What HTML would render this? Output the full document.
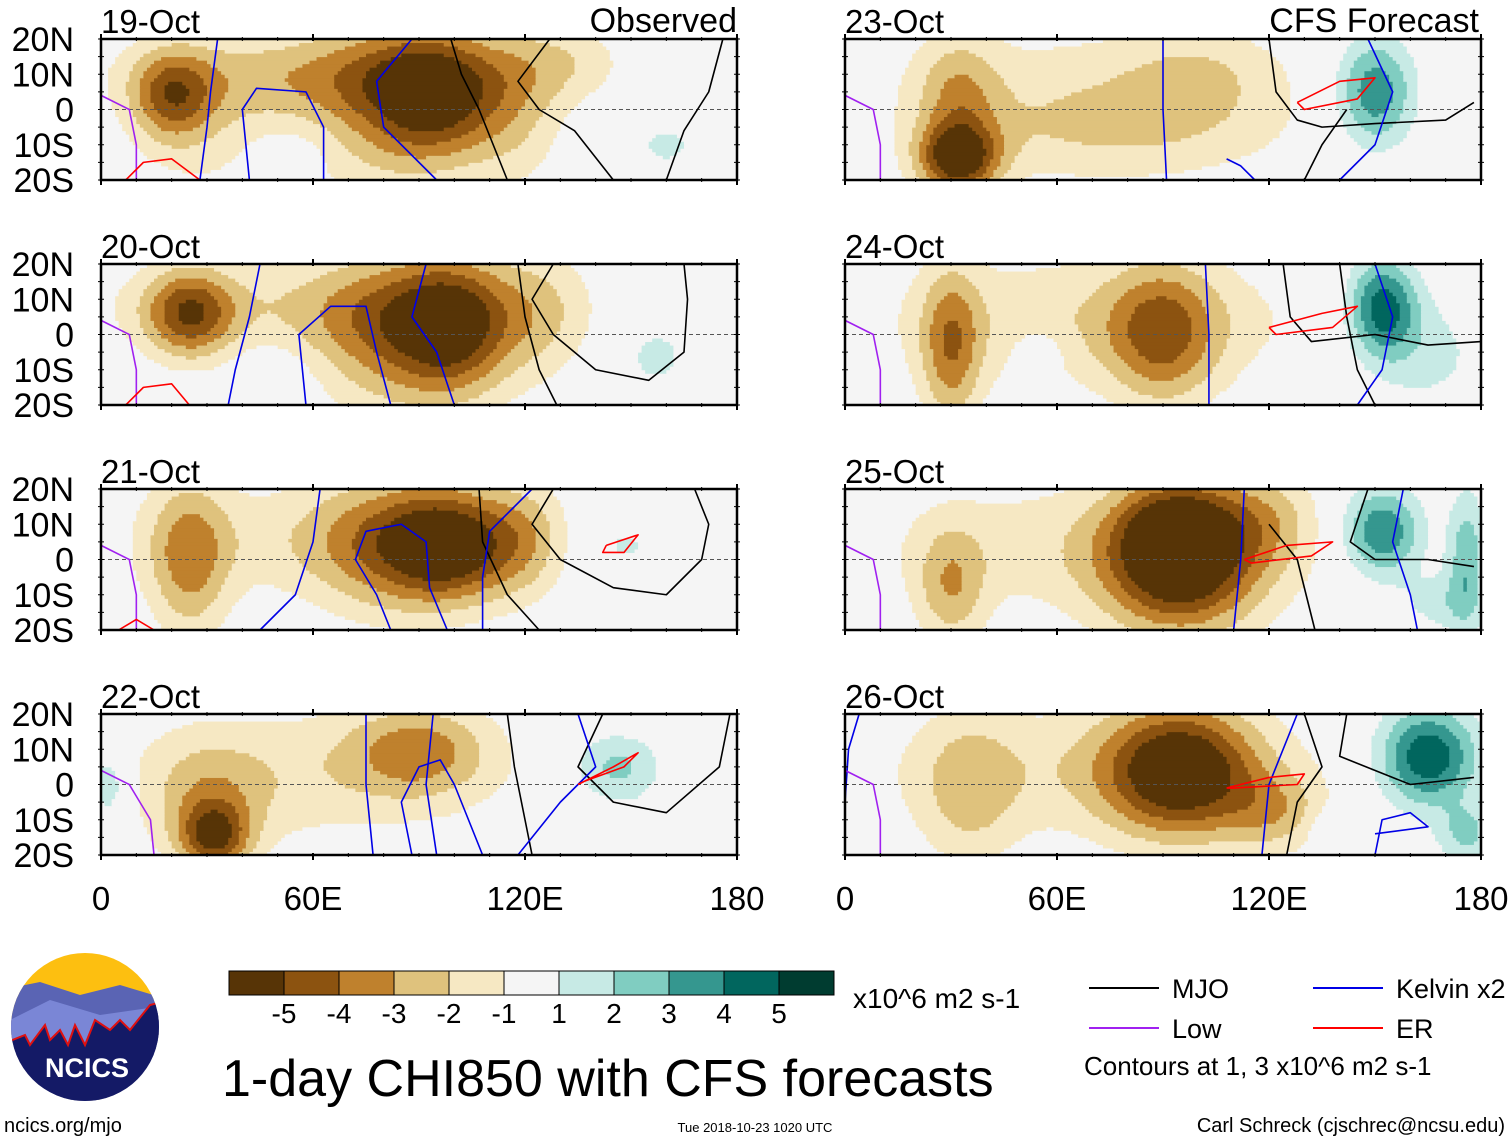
<!DOCTYPE html>
<html><head><meta charset="utf-8"><style>
body{margin:0;background:#fff;width:1510px;height:1142px;overflow:hidden;font-family:"Liberation Sans",sans-serif}
svg{position:absolute;left:0;top:0}
</style></head><body>
<svg id="c" width="1510" height="1142" xmlns="http://www.w3.org/2000/svg"></svg>
<script>
// Panel data
const panelDates=["19-Oct","20-Oct","21-Oct","22-Oct","23-Oct","24-Oct","25-Oct","26-Oct"];
// blobs: [lon, lat, amplitude, sigmaLon, sigmaLat]
const blobs=[
[[95,4,-4.8,13,13],[75,2,-2.4,18,18],[20,4,-3.4,8,9],[30,-2,-1.4,16,16],[60,10,-1.6,40,8],[118,0,-1.6,10,16],[132,14,-1.4,12,8],[160,-10,1.2,8,6],[50,-18,1.0,6,4],[55,-10,0.8,10,6]],
[[25,6,-4.2,9,9],[100,2,-4.6,12,14],[80,0,-2.8,16,16],[60,8,-1.6,45,10],[125,6,-1.6,10,14],[157,-6,1.4,7,7],[50,-12,0.6,8,8]],
[[100,4,-4.4,12,11],[82,4,-3,16,14],[25,0,-3,8,16],[60,6,-1.4,45,12],[120,6,-1.8,8,12],[148,4,1.3,8,6],[2,6,1.2,3,5]],
[[32,-15,-4.2,7,7],[90,10,-2.8,14,9],[60,3,-1.6,40,14],[146,5,2.4,9,7],[2,0,2.2,4,7],[30,-4,-1.8,12,12],[160,-12,1.0,10,5]],
[[32,-14,-5.4,8,7],[32,4,-2.2,8,12],[75,-8,-1.6,35,10],[70,8,-1.3,45,12],[100,10,-1.2,15,10],[150,5,4.0,8,11],[172,-16,1.0,4,4],[2,0,1.0,3,4]],
[[152,8,4.6,7,10],[90,0,-3.4,11,14],[30,-4,-3.2,6,16],[70,4,-1.8,45,14],[165,-5,1.4,12,12],[55,-4,0.9,6,5],[4,-4,1.0,3,4]],
[[95,8,-5.6,13,11],[95,-8,-3.4,16,12],[70,4,-1.6,45,14],[152,8,4.2,8,9],[176,0,2.8,4,14],[30,-8,-2.4,7,12],[120,12,-1.6,10,10],[168,-12,1.4,8,6]],
[[95,4,-5.6,15,13],[165,8,5.0,10,10],[176,-14,2.2,6,6],[35,-2,-1.8,10,16],[70,4,-1.6,45,14],[2,12,1.2,3,6],[122,-8,-2,10,8],[140,-12,1.2,6,4]]
];
// contour lines: [type, [[lon,lat],...]]
const lines=[
[["mjo",[[99,20],[102,10],[107,0],[111,-10],[115,-20]]],["mjo",[[127,20],[118,8],[124,0],[134,-6],[145,-20]]],["mjo",[[176,20],[172,5],[165,-6],[160,-20]]],["kel",[[33,20],[31,5],[30,-5],[28,-20]]],["kel",[[88,20],[78,8],[80,-5],[95,-20]]],["kel",[[42,-20],[40,0],[44,6],[58,5],[63,-5],[63,-20]]],["low",[[0,4],[8,0],[10,-10],[10,-20]]],["er",[[7,-20],[12,-15],[20,-14],[28,-20]]]],
[["mjo",[[118,20],[120,5],[124,-10],[129,-20]]],["mjo",[[128,20],[122,10],[128,0],[140,-10],[155,-13],[165,-5],[166,10],[165,20]]],["kel",[[45,20],[42,5],[38,-10],[36,-20]]],["kel",[[58,-20],[56,0],[65,8],[75,8],[78,-5],[82,-20]]],["kel",[[92,20],[88,5],[95,-5],[100,-20]]],["low",[[0,4],[8,0],[10,-10],[10,-20]]],["er",[[7,-20],[12,-15],[20,-14],[25,-20]]]],
[["mjo",[[107,20],[108,5],[115,-10],[124,-20]]],["mjo",[[128,20],[122,10],[130,0],[145,-8],[160,-10],[170,0],[172,10],[168,20]]],["kel",[[62,20],[60,5],[55,-10],[45,-20]]],["kel",[[98,-20],[93,-8],[92,5],[85,10],[75,8],[72,0],[78,-10],[82,-20]]],["kel",[[122,20],[110,8],[108,-5],[108,-20]]],["low",[[0,4],[8,0],[10,-10],[10,-20]]],["er",[[5,-20],[10,-17],[15,-20]]],["er",[[143,4],[152,7],[148,2],[142,2],[143,4]]]],
[["mjo",[[115,20],[117,5],[120,-10],[122,-20]]],["mjo",[[142,20],[135,5],[145,-5],[160,-8],[175,5],[178,20]]],["kel",[[75,20],[75,0],[77,-20]]],["kel",[[94,20],[92,0],[95,-20]]],["kel",[[88,-20],[85,-5],[90,5],[96,7],[100,0],[108,-20]]],["kel",[[135,20],[140,5],[130,-5],[118,-20]]],["low",[[0,4],[8,0],[14,-10],[15,-20]]],["er",[[135,0],[145,5],[152,9],[148,5],[137,1]]]],
[["mjo",[[120,20],[122,5],[128,-3],[135,-5],[150,-4],[170,-3],[178,2]]],["mjo",[[130,-20],[135,-10],[142,0]]],["kel",[[90,20],[90,0],[91,-20]]],["kel",[[148,20],[155,5],[150,-10],[140,-20]]],["kel",[[108,-14],[112,-16],[116,-20]]],["low",[[0,4],[8,0],[10,-10],[10,-20]]],["er",[[128,2],[140,8],[150,9],[145,3],[130,0],[128,2]]]],
[["mjo",[[124,20],[126,5],[132,-2],[150,0],[165,-3],[180,-2]]],["mjo",[[140,20],[142,5],[145,-10],[150,-20]]],["kel",[[102,20],[103,0],[103,-20]]],["kel",[[150,20],[155,5],[152,-10],[145,-20]]],["low",[[0,4],[8,0],[10,-10],[10,-20]]],["er",[[120,2],[135,6],[145,8],[138,2],[122,0],[120,2]]]],
[["mjo",[[133,-20],[128,0],[124,5],[120,10]]],["mjo",[[148,20],[143,5],[150,0],[165,0],[178,-2]]],["kel",[[113,20],[112,0],[110,-20]]],["kel",[[158,20],[155,5],[160,-10],[162,-20]]],["low",[[0,4],[8,0],[10,-10],[10,-20]]],["er",[[113,0],[125,4],[138,5],[132,1],[115,-1],[113,0]]]],
[["mjo",[[130,20],[135,5],[128,-5],[125,-20]]],["mjo",[[142,20],[140,8],[160,0],[178,2]]],["kel",[[128,20],[120,0],[118,-20]]],["kel",[[150,-20],[152,-10],[160,-8],[165,-12],[150,-14]]],["kel",[[0,-5],[1,10],[4,20]]],["low",[[0,4],[8,0],[10,-10],[10,-20]]],["er",[[108,-1],[120,2],[130,3],[128,0],[110,-1],[108,-1]]]]
];
const cbarLabels=["-5","-4","-3","-2","-1","1","2","3","4","5"];
const levels=[-5,-4,-3,-2,-1,1,2,3,4,5];
const colors=["#573406","#8c5310","#bf812d","#dfc27d","#f6e8c3","#f5f5f5","#c7eae5","#80cdc1","#35978f","#01665e","#003c30"];
const yTicks=["20N","10N","0","10S","20S"];
const xTicks=["0","60E","120E","180"];

const NS="http://www.w3.org/2000/svg";
const svg=document.getElementById('c');
function el(t,a,p){const e=document.createElementNS(NS,t);for(const k in a)e.setAttribute(k,a[k]);(p||svg).appendChild(e);return e;}
function txt(s,a,p){const e=el('text',a,p);e.textContent=s;return e;}
const lineColor={mjo:"#000",kel:"#0000e6",low:"#a020f0",er:"#f00"};
const W=636,H=141;
const lefts=[101,845], tops=[39,264,489,714];
function bin(v){let i=0;while(i<levels.length&&v>=levels[i])i++;return i;}
panelDates.forEach((d,pi)=>{
  const x0=lefts[Math.floor(pi/4)], y0=tops[pi%4];
  const g=el('g',{},svg);
  
  
  const sx=lon=>x0+lon/180*W, sy=lat=>y0+(20-lat)/40*H;
  const dl=1,dt=1;
  for(let lat=-20;lat<20;lat+=dt){
    let runC=null,runStart=0;
    for(let lon=0;lon<=180;lon+=dl){
      let c=null;
      if(lon<180){let v=0;const cl=lon+dl/2,ct=lat+dt/2;
        blobs[pi].forEach(b=>{v+=b[2]*Math.exp(-((cl-b[0])**2/(2*b[3]*b[3])+(ct-b[1])**2/(2*b[4]*b[4])));});
        c=colors[bin(v)];}
      if(c!==runC){
        if(runC!==null)el('rect',{x:sx(runStart),y:sy(lat+dt),width:sx(lon)-sx(runStart)+0.5,height:H*dt/40+0.5,fill:runC},g);
        runC=c;runStart=lon;}
    }
  }
  el('line',{x1:x0,x2:x0+W,y1:sy(0),y2:sy(0),stroke:"#555","stroke-dasharray":"4,3","stroke-width":1},g);
  lines[pi].forEach(([t,pts])=>{
    const p=el('polyline',{points:pts.map(q=>sx(q[0])+','+sy(q[1])).join(' '),fill:"none",stroke:lineColor[t],"stroke-width":1.6,"stroke-linejoin":"round"},g);
    
    
  });
  el('rect',{x:x0,y:y0,width:W,height:H,fill:"none",stroke:"#000","stroke-width":2.5},g);
  for(let lon=0;lon<=180;lon+=10){const big=lon%60==0;
    el('line',{x1:sx(lon),x2:sx(lon),y1:y0-(big?5:2),y2:y0+2,stroke:"#000","stroke-width":big?2:1},g);
    el('line',{x1:sx(lon),x2:sx(lon),y1:y0+H-2,y2:y0+H+(big?5:2),stroke:"#000","stroke-width":big?2:1},g);}
  for(let lat=-20;lat<=20;lat+=5){el('line',{x1:x0-3,x2:x0+3,y1:sy(lat),y2:sy(lat),stroke:"#000"},g);el('line',{x1:x0+W-3,x2:x0+W+3,y1:sy(lat),y2:sy(lat),stroke:"#000"},g);}
  const dt2=txt(d,{x:x0,y:y0-6,"font-size":33},g);
  
  
  if(pi<4){yTicks.forEach((s,i)=>{const t=txt(s,{x:74,y:y0+i*H/4+12,"font-size":34,"text-anchor":"end"},g);
    
    });}
});
const t1=txt("Observed",{x:737,y:32,"font-size":34,"text-anchor":"end"});

const t2=txt("CFS Forecast",{x:1479,y:32,"font-size":34,"text-anchor":"end"});

[101,845].forEach(x0=>xTicks.forEach((s,i)=>{const t=txt(s,{x:x0+i*W/3,y:910,"font-size":33,"text-anchor":"middle"});
  }));
// colorbar
colors.forEach((c,i)=>{const r=el('rect',{x:229+i*55,y:971,width:55,height:24,fill:c,stroke:"#000","stroke-width":1});
  });
cbarLabels.forEach((s,i)=>{const t=txt(s,{x:284+i*55,y:1023,"font-size":28,"text-anchor":"middle"});
  });
txt("x10^6 m2 s-1",{x:853,y:1008,"font-size":28});
const ti=txt("1-day CHI850 with CFS forecasts",{x:222,y:1096,"font-size":52});

// legend
[["MJO","#000",1089,988],["Kelvin x2","#0000e6",1313,988],["Low","#a020f0",1089,1028],["ER","#f00",1313,1028]].forEach(([s,c,x,y])=>{
  const g=el('g',{});
  el('line',{x1:x,x2:x+70,y1:y,y2:y,stroke:c,"stroke-width":2},g);
  txt(s,{x:x+83,y:y+10,"font-size":27},g);});
txt("Contours at 1, 3 x10^6 m2 s-1",{x:1084,y:1075,"font-size":26});
txt("ncics.org/mjo",{x:4,y:1132,"font-size":20});
txt("Tue 2018-10-23 1020 UTC",{x:755,y:1132,"font-size":13,"text-anchor":"middle"});
txt("Carl Schreck (cjschrec@ncsu.edu)",{x:1505,y:1132,"font-size":20,"text-anchor":"end"});
// logo
const lg=el('g',{});
const cp=el('clipPath',{id:'lc'},lg);el('ellipse',{cx:85,cy:1027,rx:74,ry:74},cp);
const li=el('g',{'clip-path':'url(#lc)'},lg);
el('rect',{x:0,y:950,width:170,height:160,fill:"#fdbf10"},li);
el('polygon',{points:"0,990 40,982 80,995 120,985 170,1000 170,1110 0,1110",fill:"#5a64b4"},li);
el('polygon',{points:"0,1025 50,1000 100,1015 170,1005 170,1110 0,1110",fill:"#7a86d6"},li);
el('polygon',{points:"0,1045 25,1035 30,1045 45,1025 50,1040 60,1030 68,1045 75,1025 85,1045 95,1020 110,1030 120,1020 130,1030 150,1005 170,1000 170,1110 0,1110",fill:"#141a66",stroke:"#e01010","stroke-width":2},li);
txt("NCICS",{x:87,y:1077,"font-size":27,"font-weight":"bold",fill:"#fff","text-anchor":"middle"},lg);
</script>
</body></html>
